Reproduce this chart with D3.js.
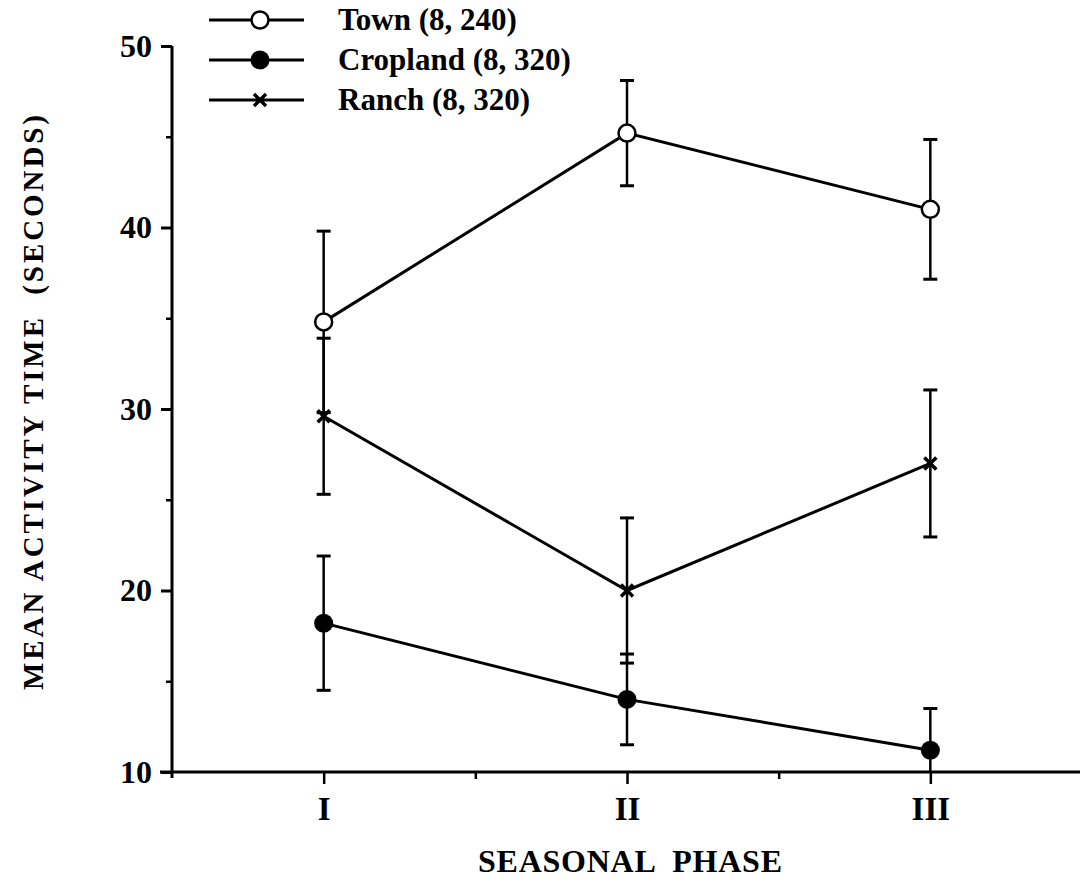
<!DOCTYPE html>
<html>
<head>
<meta charset="utf-8">
<script src="https://cdn.jsdelivr.net/npm/d3@7"></script>
<style>
  html, body { margin: 0; padding: 0; background: #fff; }
  svg { display: block; }
  text { font-family: "Liberation Serif", "Times New Roman", serif; fill: #000; }
</style>
</head>
<body>
<svg id="chart" width="1080" height="888"></svg>
<script>
// Seasonal phases along the x axis
const phases = ["I", "II", "III"];

// Mean activity time (seconds) per habitat, with the half-length of each error bar
const townMean = [34.8, 45.2, 41.0];
const townErr = [5.0, 2.9, 3.85];
const croplandMean = [18.2, 14.0, 11.2];
const croplandErr = [3.7, 2.5, 2.3];
const ranchMean = [29.6, 20.0, 27.0];
const ranchErr = [4.3, 4.0, 4.05];

// Legend labels: habitat name with sample sizes
const seriesNames = ["Town", "Cropland", "Ranch"];
const sampleSizes = ["(8, 240)", "(8, 320)", "(8, 320)"];

// Axis ticks
const yMajorTicks = [10, 20, 30, 40, 50];
const yMinorTicks = [15, 25, 35, 45];
const xMinorTicks = [1.5, 2.5];

const series = [
  { name: seriesNames[0], n: sampleSizes[0], mean: townMean, err: townErr, marker: "open" },
  { name: seriesNames[1], n: sampleSizes[1], mean: croplandMean, err: croplandErr, marker: "filled" },
  { name: seriesNames[2], n: sampleSizes[2], mean: ranchMean, err: ranchErr, marker: "cross" }
];

const svg = d3.select("#chart");

const x = d3.scaleLinear().domain([0.5, 3.5]).range([172, 1082]);
const y = d3.scaleLinear().domain([10, 50]).range([772, 46]);
const xPos = i => x(i + 1);

const ink = "#000";

// ---- Axes ----
const yAxis = svg.append("g").attr("transform", `translate(${x(0.5)},0)`);
yAxis.call(d3.axisLeft(y).tickValues(yMajorTicks).tickSize(11).tickFormat(d3.format("d")).tickPadding(9));
yAxis.select(".domain").attr("stroke", ink).attr("stroke-width", 3).attr("d", `M0,${y(50)}V${y(10) + 6}`);
yAxis.selectAll(".tick line").attr("stroke", ink).attr("stroke-width", 3);
yAxis.selectAll(".tick text")
  .attr("font-size", 32).attr("font-weight", "bold")
  .style("font-family", "'Liberation Serif', serif");

const yMinor = svg.append("g").attr("transform", `translate(${x(0.5)},0)`);
yMinor.call(d3.axisLeft(y).tickValues(yMinorTicks).tickSize(6).tickFormat(""));
yMinor.select(".domain").remove();
yMinor.selectAll(".tick line").attr("stroke", ink).attr("stroke-width", 2.5);

const xAxis = svg.append("g").attr("transform", `translate(0,${y(10)})`);
xAxis.call(d3.axisBottom(x).tickValues([1, 2, 3]).tickSize(12).tickPadding(13)
  .tickFormat(d => phases[d - 1]));
xAxis.select(".domain").attr("stroke", ink).attr("stroke-width", 3).attr("d", `M${x(0.5) - 12},0H1080`);
xAxis.selectAll(".tick line").attr("stroke", ink).attr("stroke-width", 2.5);
xAxis.selectAll(".tick text")
  .attr("font-size", 33).attr("font-weight", "bold")
  .style("font-family", "'Liberation Serif', serif");

const xMinor = svg.append("g").attr("transform", `translate(0,${y(10)})`);
xMinor.call(d3.axisBottom(x).tickValues(xMinorTicks).tickSize(7).tickFormat(""));
xMinor.select(".domain").remove();
xMinor.selectAll(".tick line").attr("stroke", ink).attr("stroke-width", 2.5);

// Axis titles
svg.append("text")
  .attr("x", 478).attr("y", 872)
  .attr("font-size", 32).attr("font-weight", "bold")
  .attr("textLength", 304).attr("lengthAdjust", "spacing")
  .style("white-space", "pre")
  .text("SEASONAL  PHASE");

svg.append("text")
  .attr("transform", `translate(43,690) rotate(-90)`)
  .attr("font-size", 29).attr("font-weight", "bold")
  .attr("textLength", 575).attr("lengthAdjust", "spacing")
  .style("white-space", "pre")
  .text("MEAN ACTIVITY TIME  (SECONDS)");

// ---- Error bars ----
const capHalf = 7;
series.forEach(s => {
  const g = svg.append("g");
  s.mean.forEach((m, i) => {
    const cx = xPos(i);
    const hi = m + s.err[i];
    const lo = Math.max(10, m - s.err[i]);
    g.append("line").attr("x1", cx).attr("x2", cx).attr("y1", y(hi)).attr("y2", y(lo))
      .attr("stroke", ink).attr("stroke-width", 2.5);
    g.append("line").attr("x1", cx - capHalf).attr("x2", cx + capHalf).attr("y1", y(hi)).attr("y2", y(hi))
      .attr("stroke", ink).attr("stroke-width", 3);
    if (m - s.err[i] > 10) {
      g.append("line").attr("x1", cx - capHalf).attr("x2", cx + capHalf).attr("y1", y(lo)).attr("y2", y(lo))
        .attr("stroke", ink).attr("stroke-width", 3);
    }
  });
});

// ---- Series lines ----
const line = d3.line().x((d, i) => xPos(i)).y(d => y(d));
series.forEach(s => {
  svg.append("path").datum(s.mean).attr("d", line)
    .attr("fill", "none").attr("stroke", ink).attr("stroke-width", 3);
});

// ---- Markers ----
function drawMarker(g, type, cx, cy) {
  if (type === "open") {
    g.append("circle").attr("cx", cx).attr("cy", cy).attr("r", 8.5)
      .attr("fill", "#fff").attr("stroke", ink).attr("stroke-width", 2.5);
  } else if (type === "filled") {
    g.append("circle").attr("cx", cx).attr("cy", cy).attr("r", 9.5).attr("fill", ink);
  } else {
    const h = 6;
    g.append("path").attr("d", `M${cx - h},${cy - h}L${cx + h},${cy + h}M${cx - h},${cy + h}L${cx + h},${cy - h}`)
      .attr("stroke", ink).attr("stroke-width", 3.5).attr("fill", "none");
  }
}
series.forEach(s => {
  const g = svg.append("g");
  s.mean.forEach((m, i) => drawMarker(g, s.marker, xPos(i), y(m)));
});

// ---- Legend ----
const legendY = [20, 60, 100];
const legend = svg.append("g");
series.forEach((s, k) => {
  const ly = legendY[k];
  legend.append("line").attr("x1", 209).attr("x2", 304).attr("y1", ly).attr("y2", ly)
    .attr("stroke", ink).attr("stroke-width", 3);
  drawMarker(legend, s.marker, 260, ly);
  legend.append("text").attr("x", 338).attr("y", ly + 10)
    .attr("font-size", 31).attr("font-weight", "bold")
    .text(`${s.name} ${s.n}`);
});
</script>
</body>
</html>
